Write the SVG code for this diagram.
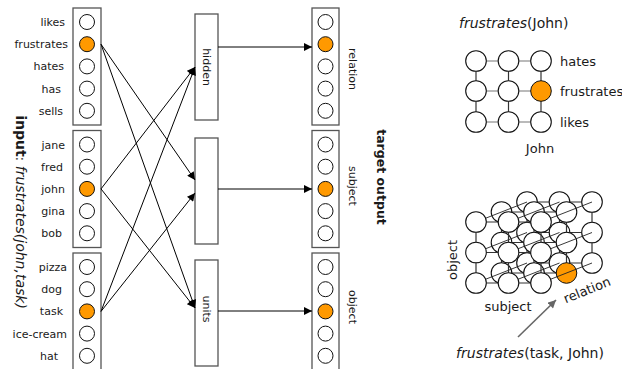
<svg xmlns="http://www.w3.org/2000/svg" width="622" height="369" viewBox="0 0 622 369">
  <defs>
    <marker id="arrow" viewBox="0 0 10 10" refX="10" refY="5" markerWidth="9" markerHeight="8" markerUnits="userSpaceOnUse" orient="auto">
      <path d="M0,0 L10,5 L0,10 z" fill="#000"/>
    </marker>
    <marker id="arrow-gray" viewBox="0 0 10 10" refX="10" refY="5" markerWidth="9" markerHeight="8" markerUnits="userSpaceOnUse" orient="auto">
      <path d="M0,0 L10,5 L0,10 z" fill="#666"/>
    </marker>
    <style>
      text { font-family: "DejaVu Sans", "Liberation Sans", sans-serif; fill: #1a1a1a; }
      .w { font-size: 11px; text-anchor: end; }
      .v { font-size: 11px; text-anchor: middle; }
      .box { fill: #fff; stroke: #555; stroke-width: 1.3; }
      .u { fill: #fff; stroke: #111; stroke-width: 1; }
      .on { fill: #f90; stroke: #111; stroke-width: 1; }
      .conn { stroke: #000; stroke-width: 1; fill: none; marker-end: url(#arrow); }
      .g { stroke: #333; stroke-width: 1.2; }
      .h { stroke: #777; stroke-width: 1.2; }
      .d { stroke: #222; stroke-width: 0.9; }
      .c { fill: #fff; stroke: #111; stroke-width: 1.1; }
      .big { font-size: 13px; }
      .cap { font-size: 14px; }
    </style>
  </defs>

  <rect width="622" height="369" fill="#fff"/>

  <!-- input layer -->
  <g id="input-relation">
    <rect class="box" x="73" y="8" width="28" height="117"/>
    <circle class="u" cx="87" cy="22" r="7.5"/>
    <circle class="on" cx="87" cy="44.2" r="7.5"/>
    <circle class="u" cx="87" cy="66.4" r="7.5"/>
    <circle class="u" cx="87" cy="88.6" r="7.5"/>
    <circle class="u" cx="87" cy="110.8" r="7.5"/>
    <text class="w" x="65" y="26">likes</text>
    <text class="w" x="68" y="48.2">frustrates</text>
    <text class="w" x="64" y="70.4">hates</text>
    <text class="w" x="61" y="92.6">has</text>
    <text class="w" x="63" y="114.8">sells</text>
  </g>
  <g id="input-subject">
    <rect class="box" x="73" y="130.5" width="28" height="117"/>
    <circle class="u" cx="87" cy="144.5" r="7.5"/>
    <circle class="u" cx="87" cy="166.7" r="7.5"/>
    <circle class="on" cx="87" cy="188.9" r="7.5"/>
    <circle class="u" cx="87" cy="211.1" r="7.5"/>
    <circle class="u" cx="87" cy="233.3" r="7.5"/>
    <text class="w" x="65" y="148.5">jane</text>
    <text class="w" x="63" y="170.7">fred</text>
    <text class="w" x="65" y="192.9">john</text>
    <text class="w" x="65" y="215.1">gina</text>
    <text class="w" x="62" y="237.3">bob</text>
  </g>
  <g id="input-object">
    <rect class="box" x="73" y="253" width="28" height="117"/>
    <circle class="u" cx="87" cy="267" r="7.5"/>
    <circle class="u" cx="87" cy="289.2" r="7.5"/>
    <circle class="on" cx="87" cy="311.4" r="7.5"/>
    <circle class="u" cx="87" cy="333.6" r="7.5"/>
    <circle class="u" cx="87" cy="355.8" r="7.5"/>
    <text class="w" x="67" y="271">pizza</text>
    <text class="w" x="62" y="293.2">dog</text>
    <text class="w" x="63" y="315.4">task</text>
    <text class="w" x="67" y="337.6">ice-cream</text>
    <text class="w" x="58" y="359.8">hat</text>
  </g>
  <g id="input-label">
    <text transform="translate(21,212) rotate(90)" text-anchor="middle" dominant-baseline="central" font-size="14"><tspan font-weight="bold">input</tspan>: <tspan font-style="italic">frustrates(john,task)</tspan></text>
  </g>

  <!-- hidden layer -->
  <g id="hidden-1">
    <rect class="box" x="195" y="14" width="23" height="106"/>
    <text class="v" transform="translate(206.5,67) rotate(90)" dominant-baseline="central">hidden</text>
  </g>
  <g id="hidden-2">
    <rect class="box" x="195" y="138" width="23" height="106"/>
  </g>
  <g id="hidden-3">
    <rect class="box" x="195" y="260" width="23" height="106"/>
    <text class="v" transform="translate(206.5,309) rotate(90)" dominant-baseline="central">units</text>
  </g>

  <!-- output layer -->
  <g id="output-relation">
    <rect class="box" x="312" y="8" width="27" height="117"/>
    <circle class="u" cx="325.5" cy="22" r="7.5"/>
    <circle class="on" cx="325.5" cy="44.2" r="7.5"/>
    <circle class="u" cx="325.5" cy="66.4" r="7.5"/>
    <circle class="u" cx="325.5" cy="88.6" r="7.5"/>
    <circle class="u" cx="325.5" cy="110.8" r="7.5"/>
    <text class="v" transform="translate(352,69) rotate(90)" dominant-baseline="central">relation</text>
  </g>
  <g id="output-subject">
    <rect class="box" x="312" y="130.5" width="27" height="117"/>
    <circle class="u" cx="325.5" cy="144.5" r="7.5"/>
    <circle class="u" cx="325.5" cy="166.7" r="7.5"/>
    <circle class="on" cx="325.5" cy="188.9" r="7.5"/>
    <circle class="u" cx="325.5" cy="211.1" r="7.5"/>
    <circle class="u" cx="325.5" cy="233.3" r="7.5"/>
    <text class="v" transform="translate(352,186) rotate(90)" dominant-baseline="central">subject</text>
  </g>
  <g id="output-object">
    <rect class="box" x="312" y="253" width="27" height="117"/>
    <circle class="u" cx="325.5" cy="267" r="7.5"/>
    <circle class="u" cx="325.5" cy="289.2" r="7.5"/>
    <circle class="on" cx="325.5" cy="311.4" r="7.5"/>
    <circle class="u" cx="325.5" cy="333.6" r="7.5"/>
    <circle class="u" cx="325.5" cy="355.8" r="7.5"/>
    <text class="v" transform="translate(352,307) rotate(90)" dominant-baseline="central">object</text>
  </g>
  <g id="output-label">
    <text transform="translate(381,177) rotate(90)" text-anchor="middle" dominant-baseline="central" font-size="12.5" font-weight="bold">target output</text>
  </g>

  <!-- connectors -->
  <g id="connectors">
    <line class="conn" x1="101" y1="44.2" x2="195" y2="180"/>
    <line class="conn" x1="101" y1="44.2" x2="195" y2="308"/>
    <line class="conn" x1="101" y1="188.9" x2="195" y2="67"/>
    <line class="conn" x1="101" y1="188.9" x2="195" y2="308"/>
    <line class="conn" x1="101" y1="311.4" x2="195" y2="67"/>
    <line class="conn" x1="101" y1="311.4" x2="195" y2="193"/>
    <line class="conn" x1="218" y1="47" x2="312" y2="47"/>
    <line class="conn" x1="218" y1="189" x2="312" y2="189"/>
    <line class="conn" x1="218" y1="311" x2="312" y2="311"/>
  </g>

  <!-- 2-D grid: frustrates(John) -->
  <g id="grid-2d">
    <text class="cap" x="459" y="28"><tspan font-style="italic">frustrates</tspan>(John)</text>
    <line class="h" x1="476" y1="61" x2="541" y2="61"/>
    <line class="h" x1="476" y1="91" x2="541" y2="91"/>
    <line class="h" x1="476" y1="122" x2="541" y2="122"/>
    <line class="g" x1="476" y1="61" x2="476" y2="122"/>
    <line class="g" x1="508.5" y1="61" x2="508.5" y2="122"/>
    <line class="g" x1="541" y1="61" x2="541" y2="122"/>
    <circle class="c" cx="476" cy="61" r="10.3"/>
    <circle class="c" cx="508.5" cy="61" r="10.3"/>
    <circle class="c" cx="541" cy="61" r="10.3"/>
    <circle class="c" cx="476" cy="91" r="10.3"/>
    <circle class="c" cx="508.5" cy="91" r="10.3"/>
    <circle class="on" cx="541" cy="91" r="10.3"/>
    <circle class="c" cx="476" cy="122" r="10.3"/>
    <circle class="c" cx="508.5" cy="122" r="10.3"/>
    <circle class="c" cx="541" cy="122" r="10.3"/>
    <text class="big" x="560" y="66">hates</text>
    <text class="big" x="560" y="96">frustrates</text>
    <text class="big" x="560" y="127">likes</text>
    <text class="big" x="540" y="153" text-anchor="middle">John</text>
  </g>

  <!-- 3-D cube: frustrates(task, John) -->
  <g id="cube-3d">
    <!-- back layer (offset 51,-20) -->
    <g transform="translate(51,-20)">
      <line class="g" x1="476" y1="222" x2="541" y2="222"/>
      <line class="g" x1="476" y1="252.5" x2="541" y2="252.5"/>
      <line class="g" x1="476" y1="283" x2="541" y2="283"/>
      <line class="g" x1="476" y1="222" x2="476" y2="283"/>
      <line class="g" x1="508.5" y1="222" x2="508.5" y2="283"/>
      <line class="g" x1="541" y1="222" x2="541" y2="283"/>
      <circle class="c" cx="476" cy="222" r="10.3"/>
      <circle class="c" cx="508.5" cy="222" r="10.3"/>
      <circle class="c" cx="541" cy="222" r="10.3"/>
      <circle class="c" cx="476" cy="252.5" r="10.3"/>
      <circle class="c" cx="508.5" cy="252.5" r="10.3"/>
      <circle class="c" cx="541" cy="252.5" r="10.3"/>
      <circle class="c" cx="476" cy="283" r="10.3"/>
      <circle class="c" cx="508.5" cy="283" r="10.3"/>
      <circle class="c" cx="541" cy="283" r="10.3"/>
    </g>
    <!-- middle layer (offset 25.5,-10) -->
    <g transform="translate(25.5,-10)">
      <line class="g" x1="476" y1="222" x2="541" y2="222"/>
      <line class="g" x1="476" y1="252.5" x2="541" y2="252.5"/>
      <line class="g" x1="476" y1="283" x2="541" y2="283"/>
      <line class="g" x1="476" y1="222" x2="476" y2="283"/>
      <line class="g" x1="508.5" y1="222" x2="508.5" y2="283"/>
      <line class="g" x1="541" y1="222" x2="541" y2="283"/>
      <circle class="c" cx="476" cy="222" r="10.3"/>
      <circle class="c" cx="508.5" cy="222" r="10.3"/>
      <circle class="c" cx="541" cy="222" r="10.3"/>
      <circle class="c" cx="476" cy="252.5" r="10.3"/>
      <circle class="c" cx="508.5" cy="252.5" r="10.3"/>
      <circle class="c" cx="541" cy="252.5" r="10.3"/>
      <circle class="c" cx="476" cy="283" r="10.3"/>
      <circle class="c" cx="508.5" cy="283" r="10.3"/>
      <circle class="on" cx="541" cy="283" r="10.3"/>
    </g>
    <!-- depth lines along the relation axis -->
    <g class="d">
      <line x1="476" y1="222" x2="527" y2="202"/>
      <line x1="508.5" y1="222" x2="559.5" y2="202"/>
      <line x1="541" y1="222" x2="592" y2="202"/>
      <line x1="476" y1="252.5" x2="527" y2="232.5"/>
      <line x1="508.5" y1="252.5" x2="559.5" y2="232.5"/>
      <line x1="541" y1="252.5" x2="592" y2="232.5"/>
      <line x1="476" y1="283" x2="527" y2="263"/>
      <line x1="508.5" y1="283" x2="559.5" y2="263"/>
      <line x1="541" y1="283" x2="592" y2="263"/>
    </g>
    <!-- front layer -->
    <g>
      <line class="g" x1="476" y1="222" x2="541" y2="222"/>
      <line class="g" x1="476" y1="252.5" x2="541" y2="252.5"/>
      <line class="g" x1="476" y1="283" x2="541" y2="283"/>
      <line class="g" x1="476" y1="222" x2="476" y2="283"/>
      <line class="g" x1="508.5" y1="222" x2="508.5" y2="283"/>
      <line class="g" x1="541" y1="222" x2="541" y2="283"/>
      <circle class="c" cx="476" cy="222" r="10.3"/>
      <circle class="c" cx="508.5" cy="222" r="10.3"/>
      <circle class="c" cx="541" cy="222" r="10.3"/>
      <circle class="c" cx="476" cy="252.5" r="10.3"/>
      <circle class="c" cx="508.5" cy="252.5" r="10.3"/>
      <circle class="c" cx="541" cy="252.5" r="10.3"/>
      <circle class="c" cx="476" cy="283" r="10.3"/>
      <circle class="c" cx="508.5" cy="283" r="10.3"/>
      <circle class="c" cx="541" cy="283" r="10.3"/>
    </g>
    <text class="big" transform="translate(452,260) rotate(-90)" text-anchor="middle" dominant-baseline="central">object</text>
    <text class="big" x="508" y="311" text-anchor="middle">subject</text>
    <text class="big" transform="translate(587,290) rotate(-22)" text-anchor="middle" dominant-baseline="central">relation</text>
    <line x1="518" y1="337" x2="556" y2="300" stroke="#666" stroke-width="1.6" marker-end="url(#arrow-gray)"/>
    <text class="cap" x="530" y="358" text-anchor="middle"><tspan font-style="italic">frustrates</tspan>(task, John)</text>
  </g>
</svg>
